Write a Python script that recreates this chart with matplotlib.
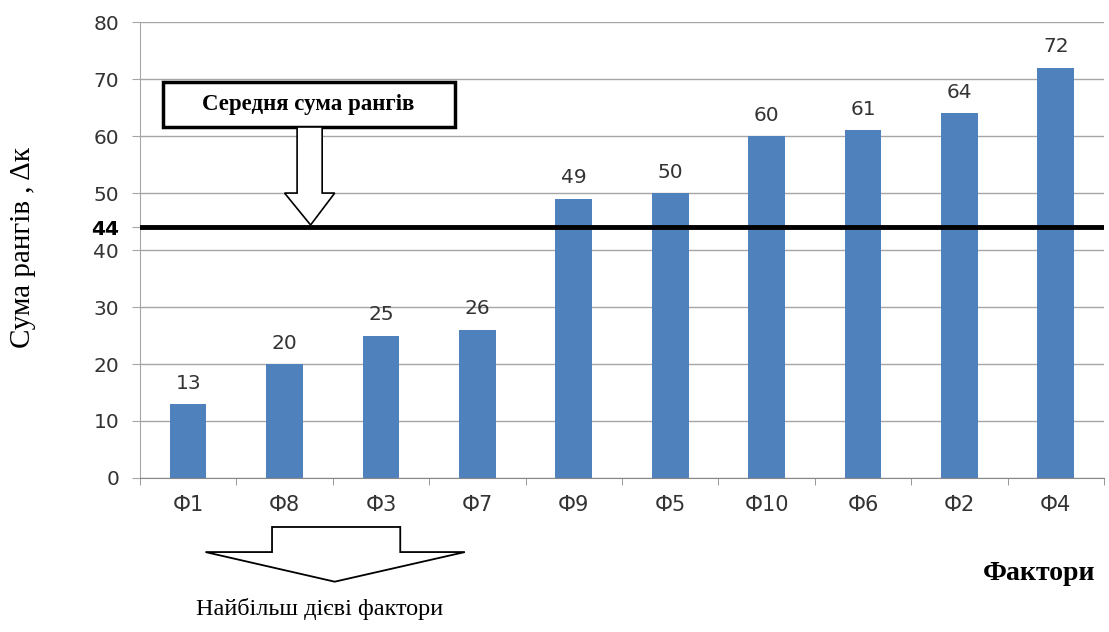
import matplotlib.pyplot as plt
from matplotlib.patches import Polygon, Rectangle

factors = ['Ф1', 'Ф8', 'Ф3', 'Ф7', 'Ф9', 'Ф5', 'Ф10', 'Ф6', 'Ф2', 'Ф4']
rank_sums = [13, 20, 25, 26, 49, 50, 60, 61, 64, 72]
mean_rank = 44
y_ticks = [0, 10, 20, 30, 40, 50, 60, 70, 80]

serif = 'Liberation Serif'
bar_color = '#4f81bd'

fig = plt.figure(figsize=(11.09, 6.32), dpi=100)
ax = fig.add_axes([0.1262, 0.2437, 0.8693, 0.7213])

x = list(range(len(factors)))
bars = ax.bar(x, rank_sums, width=0.38, color=bar_color, zorder=2)
for xi, v in zip(x, rank_sums):
    ax.text(xi, v + 2.0, str(v), ha='center', va='bottom', fontsize=14.5, color='#333333')

ax.set_xlim(-0.5, len(factors) - 0.5)
ax.set_ylim(0, 80)

# y ticks plus the mean value in bold
ax.set_yticks(y_ticks + [mean_rank])
ax.set_yticklabels([str(t) for t in y_ticks] + [str(mean_rank)], fontsize=14.5, color='#333333')
ax.get_yticklabels()[-1].set_fontweight('bold')
ax.get_yticklabels()[-1].set_color('black')
ax.tick_params(axis='y', length=6, color='#a6a6a6', pad=9)
ax.yaxis.grid(True, color='#a6a6a6', linewidth=1, zorder=0)
ax.get_ygridlines()[-1].set_visible(False)

ax.set_xticks(x)
ax.set_xticklabels(factors, fontsize=15, color='#333333')
ax.set_xticks([i - 0.5 for i in range(len(factors) + 1)], minor=True)
ax.tick_params(axis='x', which='major', length=0, pad=12)
ax.tick_params(axis='x', which='minor', length=5, color='#888888', direction='out')

for side in ['top', 'right']:
    ax.spines[side].set_visible(False)
ax.spines['left'].set_color('#a6a6a6')
ax.spines['bottom'].set_color('#888888')

# mean line
ax.axhline(mean_rank, color='black', linewidth=3.5, zorder=3)

# label box with hollow arrow down to the mean line
box = Rectangle((-0.26, 61.6), 3.03, 7.9, facecolor='white', edgecolor='black',
                linewidth=2.5, zorder=4, clip_on=False)
ax.add_patch(box)
ax.text(1.25, 65.6, 'Середня сума рангів', ha='center', va='center',
        fontsize=16.5, fontweight='bold', family=serif, zorder=5)
top_arrow = Polygon([(1.13, 61.6), (1.39, 61.6), (1.39, 50), (1.52, 50), (1.27, 44.4),
                     (1.0, 50), (1.13, 50)], closed=True, facecolor='white',
                    edgecolor='black', linewidth=1.2, zorder=4)
ax.add_patch(top_arrow)

# wide hollow arrow under the first four factors
bottom_arrow = Polygon([(0.87, -8.6), (2.2, -8.6), (2.2, -13), (2.87, -13), (1.52, -18.2),
                        (0.18, -13), (0.87, -13)], closed=True, facecolor='white',
                       edgecolor='black', linewidth=1.3, clip_on=False, zorder=4)
ax.add_patch(bottom_arrow)
ax.text(1.36, -23, 'Найбільш дієві фактори', ha='center', va='center',
        fontsize=17.5, family=serif, clip_on=False)

ax.set_ylabel('Сума рангів , Δк', fontsize=21, family=serif)
ax.yaxis.set_label_coords(-0.108, 0.505)
fig.text(0.937, 0.093, 'Фактори', ha='center', va='center', fontsize=20,
         fontweight='bold', family=serif)

fig.savefig('out.png', dpi=100)
